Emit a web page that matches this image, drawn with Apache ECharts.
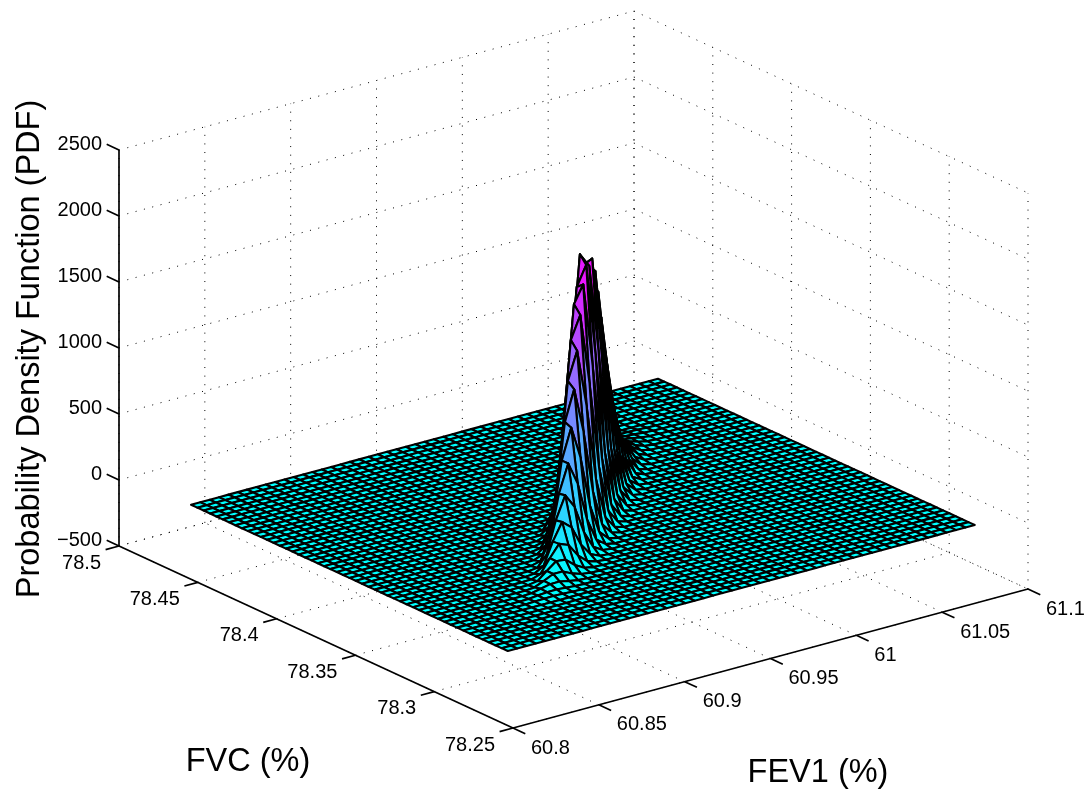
<!DOCTYPE html>
<html><head><meta charset="utf-8">
<style>html,body{margin:0;padding:0;background:#fff}#c{width:1087px;height:793px}</style>
<script src="https://cdn.jsdelivr.net/npm/echarts@6/dist/echarts.min.js"></script>
</head><body><div id="c"></div>
<script>
const fevGrid=[60.8068,60.8122,60.8177,60.8231,60.8286,60.8340,60.8394,60.8449,60.8503,60.8558,60.8612,60.8666,60.8721,60.8775,60.8830,60.8884,60.8938,60.8993,60.9047,60.9102,60.9156,60.9210,60.9265,60.9319,60.9374,60.9428,60.9482,60.9537,60.9591,60.9646,60.9700,60.9754,60.9809,60.9863,60.9918,60.9972,61.0026,61.0081,61.0135,61.0190,61.0244,61.0298,61.0353,61.0407,61.0462,61.0516,61.0570,61.0625,61.0679,61.0734,61.0788];
const fvcGrid=[78.2607,78.2647,78.2687,78.2728,78.2768,78.2808,78.2848,78.2888,78.2929,78.2969,78.3009,78.3049,78.3089,78.3130,78.3170,78.3210,78.3250,78.3290,78.3331,78.3371,78.3411,78.3451,78.3491,78.3532,78.3572,78.3612,78.3652,78.3692,78.3733,78.3773,78.3813,78.3853,78.3893,78.3934,78.3974,78.4014,78.4054,78.4094,78.4135,78.4175,78.4215,78.4255,78.4295,78.4336,78.4376,78.4416,78.4456,78.4496,78.4537,78.4577,78.4617];
// PDF readings around the ridge: row r is FVC index (zRidgeFirstRow + r), columns are FEV index (row-3 .. row+5); everything else lies on the flat sheet at 0
const zRidgeFirstRow=9;
const zRidgeRows=[
[0,0,0,3,6,8,5,2,0],
[0,0,1,8,14,16,10,4,1],
[0,0,3,18,34,35,20,7,2],
[0,0,6,36,70,70,36,12,3],
[0,1,12,70,125,118,58,18,4],
[0,2,24,125,215,188,90,27,6],
[0,4,45,210,340,280,132,40,8],
[0,8,85,330,500,395,182,53,10],
[1,16,150,490,700,530,240,68,13],
[2,30,240,700,930,685,306,84,15],
[4,55,360,950,1180,843,368,99,18],
[8,90,510,1220,1430,994,425,112,20],
[14,150,700,1490,1660,1123,470,121,21],
[25,230,920,1720,1850,1214,497,126,21],
[45,330,1080,1809,1957,1258,504,125,20],
[80,430,1200,2015,1909,1247,488,118,19],
[100,470,1240,1890,1923,1183,454,108,17],
[110,480,1210,1864,1786,1076,403,94,14],
[112,465,1134,1694,1588,935,344,78,12],
[108,430,1008,1473,1353,779,280,62,9],
[101,374,859,1228,1102,622,218,47,7],
[86,312,700,980,860,475,163,35,5],
[70,249,546,747,643,347,117,24,3],
[55,190,408,547,460,243,80,16,2],
[41,139,292,383,315,163,53,10,1],
[29,97,200,257,207,104,33,6,1],
[20,65,131,164,130,64,20,4,0],
[13,42,83,101,77,38,11,2,0],
[8,26,49,60,44,21,6,1,0],
[5,15,28,33,25,11,3,1,0],
[3,8,16,18,13,6,2,0,0],
[1,4,8,9,7,3,1,0,0]
];
const zTicks=[-500,0,500,1000,1500,2000,2500];
const zTickLabels=['\u2212500','0','500','1000','1500','2000','2500'];
const fvcTicks=[78.25,78.3,78.35,78.4,78.45,78.5];
const fvcTickLabels=['78.25','78.3','78.35','78.4','78.45','78.5'];
const fevTicks=[60.8,60.85,60.9,60.95,61,61.05,61.1];
const fevTickLabels=['60.8','60.85','60.9','60.95','61','61.05','61.1'];
const zTitle='Probability Density Function (PDF)', fvcTitle='FVC (%)', fevTitle='FEV1 (%)';

// oblique view of the box: front-floor corner and the screen vectors of the three full axis spans
const FEV=[60.8,61.1], FVC=[78.25,78.5], Z=[-500,2500];
const view={ox:513,oy:728, ux:515,uy:-139, vx:-394,vy:-182, wy:-396};
function project(fev,fvc,z){
  const u=(fev-FEV[0])/(FEV[1]-FEV[0]), v=(fvc-FVC[0])/(FVC[1]-FVC[0]), w=(z-Z[0])/(Z[1]-Z[0]);
  return [view.ox+u*view.ux+v*view.vx, view.oy+u*view.uy+v*view.vy+w*view.wy];
}
function zAt(i,j){
  const r=j-zRidgeFirstRow;
  if(r<0||r>=zRidgeRows.length) return 0;
  const c=i-j+3;
  return (c>=0&&c<9)?zRidgeRows[r][c]:0;
}
const cells=[];
for(let j=fvcGrid.length-2;j>=0;j--) for(let i=fevGrid.length-2;i>=0;i--){
  cells.push([fevGrid[i],fevGrid[i+1],fvcGrid[j],fvcGrid[j+1],zAt(i,j),zAt(i+1,j),zAt(i+1,j+1),zAt(i,j+1),zAt(i,j),i+j]);
}
cells.sort((a,b)=>b[9]-a[9]);

const gridLines=[];
fevTicks.forEach(f=>{gridLines.push([f,FVC[0],Z[0],f,FVC[1],Z[0]]);gridLines.push([f,FVC[1],Z[0],f,FVC[1],Z[1]]);});
fvcTicks.forEach(f=>{gridLines.push([FEV[0],f,Z[0],FEV[1],f,Z[0]]);gridLines.push([FEV[1],f,Z[0],FEV[1],f,Z[1]]);});
zTicks.forEach(t=>{gridLines.push([FEV[0],FVC[1],t,FEV[1],FVC[1],t]);gridLines.push([FEV[1],FVC[1],t,FEV[1],FVC[0],t]);});

const axisLines=[
 [FEV[0],FVC[1],Z[0],FEV[0],FVC[1],Z[1]],
 [FEV[0],FVC[1],Z[0],FEV[0],FVC[0],Z[0]],
 [FEV[0],FVC[0],Z[0],FEV[1],FVC[0],Z[0]]
];
const TICK=0.026;
zTicks.forEach(t=>axisLines.push([FEV[0],FVC[1],t,FEV[0],FVC[1]+TICK*(FVC[1]-FVC[0])*1.2,t]));
fvcTicks.forEach(f=>axisLines.push([FEV[0],f,Z[0],FEV[0]-TICK*(FEV[1]-FEV[0]),f,Z[0]]));
fevTicks.forEach(f=>axisLines.push([f,FVC[0],Z[0],f,FVC[0]-TICK*(FVC[1]-FVC[0])*1.2,Z[0]]));

const labels=[];
zTicks.forEach((t,k)=>labels.push([FEV[0],FVC[1],t,zTickLabels[k],-17,-6,'right']));
fvcTicks.forEach((f,k)=>labels.push([FEV[0],f,Z[0],fvcTickLabels[k],-18,17,'right']));
fevTicks.forEach((f,k)=>labels.push([f,FVC[0],Z[0],fevTickLabels[k],18,20,'left']));

const FONT='"Liberation Sans", Arial, sans-serif';
function segRender(style){
  return (params,api)=>{
    const a=api.coord(project(api.value(0),api.value(1),api.value(2)));
    const b=api.coord(project(api.value(3),api.value(4),api.value(5)));
    return {type:'line',silent:true,shape:{x1:a[0],y1:a[1],x2:b[0],y2:b[1]},style:style};
  };
}
const chart=echarts.init(document.getElementById('c'),null,{width:1087,height:793});
chart.setOption({
  animation:false,
  backgroundColor:'#ffffff',
  grid:{left:0,top:0,width:1087,height:793},
  xAxis:{type:'value',min:0,max:1087,show:false},
  yAxis:{type:'value',min:0,max:793,inverse:true,show:false},
  visualMap:{show:false,type:'continuous',seriesIndex:1,dimension:8,min:0,max:2015,inRange:{color:['#00ffff','#ff00ff']}},
  series:[
   {type:'custom',name:'grid',coordinateSystem:'cartesian2d',silent:true,data:gridLines,clip:false,
    renderItem:segRender({stroke:'#000',lineWidth:1,lineDash:[1,7.6]})},
   {type:'custom',name:'PDF surface',coordinateSystem:'cartesian2d',silent:true,data:cells,clip:false,
    encode:{x:0,y:2},
    renderItem:(params,api)=>{
      const f0=api.value(0),f1=api.value(1),v0=api.value(2),v1=api.value(3);
      const pts=[[f0,v0,api.value(4)],[f1,v0,api.value(5)],[f1,v1,api.value(6)],[f0,v1,api.value(7)]]
        .map(p=>api.coord(project(p[0],p[1],p[2])));
      return {type:'polygon',silent:true,shape:{points:pts},style:{fill:api.visual('color'),stroke:'#000',lineWidth:2.1,lineJoin:'round'}};
    }},
   {type:'custom',name:'axes',coordinateSystem:'cartesian2d',silent:true,data:axisLines,clip:false,
    renderItem:segRender({stroke:'#000',lineWidth:1.7})},
   {type:'custom',name:'tick labels',coordinateSystem:'cartesian2d',silent:true,data:labels,clip:false,
    dimensions:[{name:'a',type:'float'},{name:'b',type:'float'},{name:'c',type:'float'},{name:'t',type:'ordinal'},{name:'dx',type:'float'},{name:'dy',type:'float'},{name:'al',type:'ordinal'}],
    renderItem:(params,api)=>{
      const row=labels[params.dataIndex];
      const p=api.coord(project(row[0],row[1],row[2]));
      return {type:'text',silent:true,x:p[0]+row[4],y:p[1]+row[5],
        style:{text:row[3],fill:'#000',font:'20px '+FONT,textAlign:row[6],textVerticalAlign:'middle'}};
    }}
  ],
  graphic:[
   {type:'text',silent:true,x:30,y:349,rotation:Math.PI/2,style:{text:zTitle,fill:'#000',font:'32.5px '+FONT,textAlign:'center',textVerticalAlign:'middle'}},
   {type:'text',silent:true,x:248,y:762,style:{text:fvcTitle,fill:'#000',font:'32.5px '+FONT,textAlign:'center',textVerticalAlign:'middle'}},
   {type:'text',silent:true,x:818,y:773,style:{text:fevTitle,fill:'#000',font:'32.5px '+FONT,textAlign:'center',textVerticalAlign:'middle'}}
  ]
});
</script></body></html>
